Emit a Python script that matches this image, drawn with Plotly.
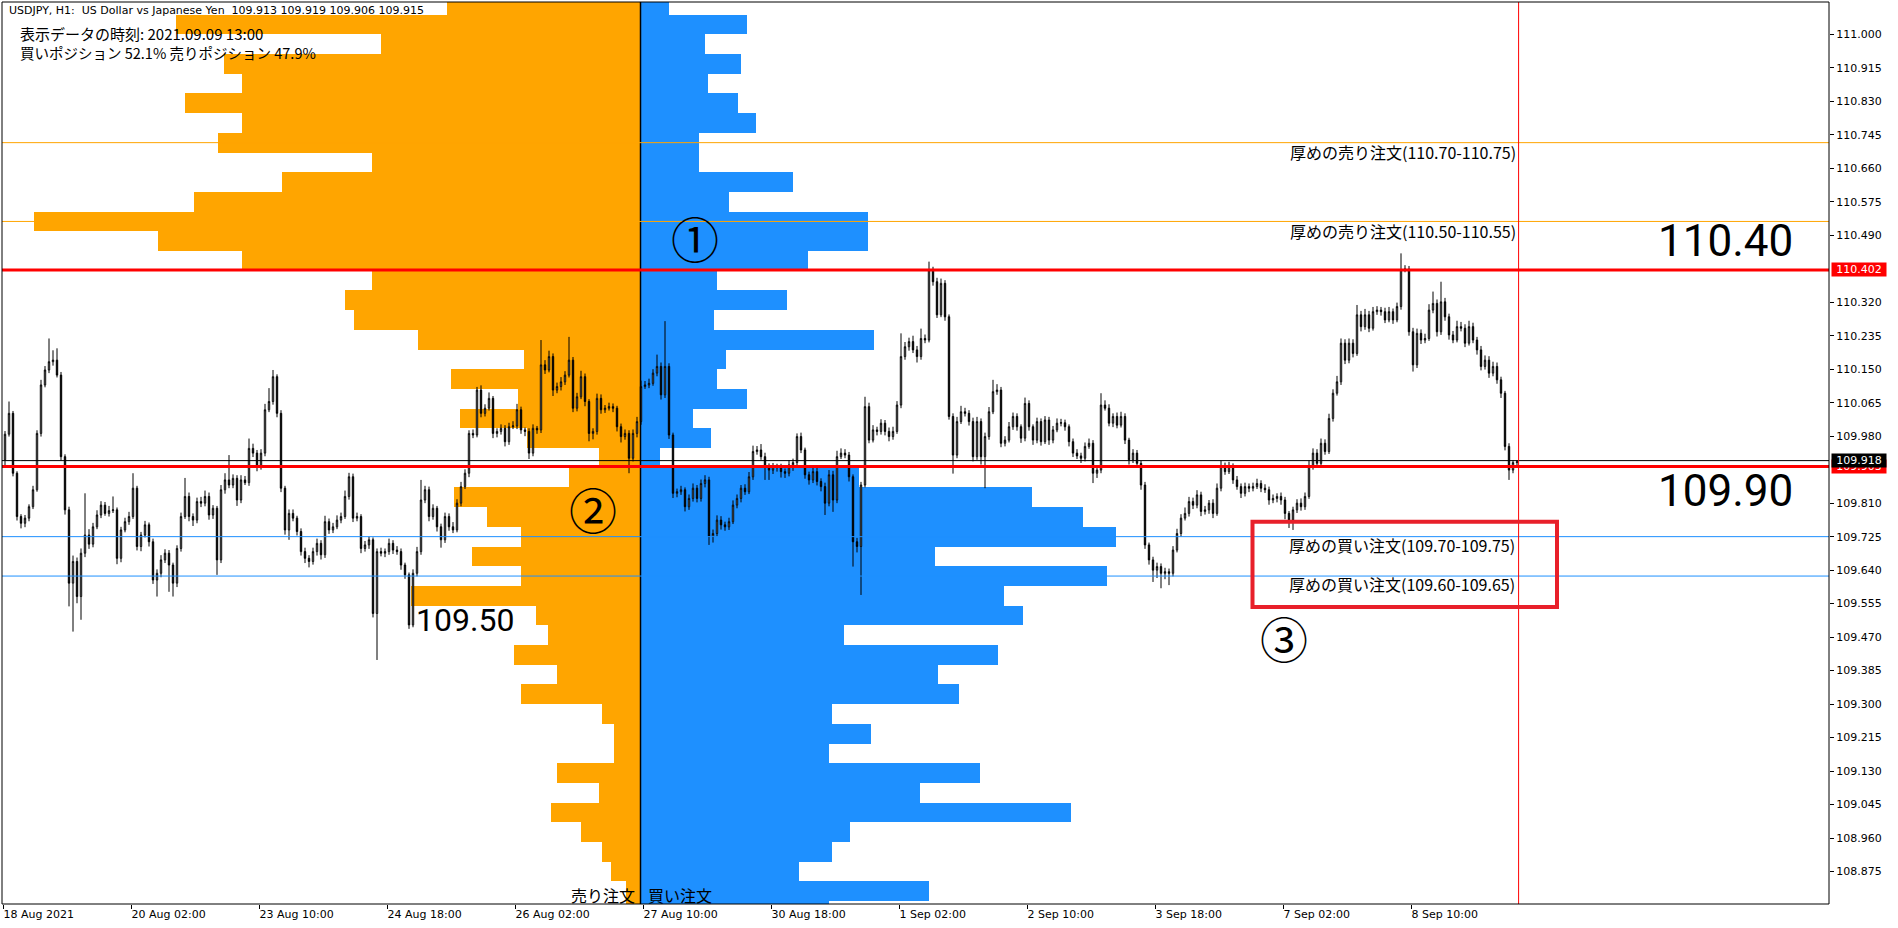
import plotly.graph_objects as go

# ---------------- data ----------------
time_labels = ["18 Aug 2021", "20 Aug 02:00", "23 Aug 10:00", "24 Aug 18:00", "26 Aug 02:00",
               "27 Aug 10:00", "30 Aug 18:00", "1 Sep 02:00", "2 Sep 10:00", "3 Sep 18:00",
               "7 Sep 02:00", "8 Sep 10:00"]
price_tick_labels = ["108.875", "108.960", "109.045", "109.130", "109.215", "109.300", "109.385",
                     "109.470", "109.555", "109.640", "109.725", "109.810", "109.980", "110.065",
                     "110.150", "110.235", "110.320", "110.490", "110.575", "110.660", "110.745",
                     "110.830", "110.915", "111.000"]

first_open = 109.920
closes = [
    109.985, 110.038, 109.886, 109.776, 109.759, 109.772, 109.801, 109.844, 109.987, 110.110,
    110.148, 110.169, 110.173, 110.135, 109.928, 109.793, 109.607, 109.662, 109.573, 109.683,
    109.729, 109.706, 109.750, 109.780, 109.805, 109.784, 109.791, 109.793, 109.670, 109.742,
    109.763, 109.776, 109.848, 109.700, 109.729, 109.755, 109.712, 109.615, 109.632, 109.666,
    109.683, 109.653, 109.607, 109.695, 109.776, 109.827, 109.776, 109.767, 109.814, 109.810,
    109.827, 109.780, 109.797, 109.666, 109.844, 109.869, 109.856, 109.873, 109.818, 109.869,
    109.862, 109.949, 109.937, 109.903, 109.937, 110.047, 110.068, 110.131, 110.038, 109.848,
    109.742, 109.784, 109.772, 109.738, 109.687, 109.670, 109.662, 109.687, 109.708, 109.679,
    109.763, 109.742, 109.750, 109.767, 109.776, 109.827, 109.877, 109.772, 109.776, 109.695,
    109.704, 109.717, 109.530, 109.687, 109.683, 109.687, 109.708, 109.691, 109.687, 109.653,
    109.628, 109.501, 109.632, 109.687, 109.818, 109.844, 109.776, 109.797, 109.750, 109.717,
    109.776, 109.750, 109.742, 109.810, 109.852, 109.886, 109.987, 109.983, 110.097, 110.038,
    110.051, 110.076, 109.987, 109.992, 110.000, 109.966, 110.004, 110.006, 110.047, 109.996,
    109.992, 109.937, 110.000, 109.996, 110.161, 110.148, 110.182, 110.097, 110.106, 110.118,
    110.135, 110.173, 110.051, 110.080, 110.131, 110.068, 109.987, 109.992, 110.076, 110.047,
    110.051, 110.055, 110.051, 110.004, 109.979, 109.987, 109.924, 109.987, 110.017, 110.106,
    110.110, 110.114, 110.140, 110.157, 110.085, 110.157, 109.983, 109.835, 109.839, 109.844,
    109.801, 109.822, 109.848, 109.822, 109.860, 109.869, 109.725, 109.733, 109.767, 109.755,
    109.750, 109.763, 109.805, 109.822, 109.848, 109.839, 109.877, 109.941, 109.945,
    109.928, 109.903, 109.894, 109.904, 109.900, 109.890, 109.886, 109.907, 109.913, 109.979,
    109.945, 109.882, 109.869, 109.890, 109.865, 109.852, 109.810, 109.882, 109.818, 109.928,
    109.937, 109.932, 109.877, 109.712, 109.700, 109.856, 110.055, 109.970, 109.996, 109.992,
    110.013, 109.992, 109.979, 109.992, 110.059, 110.182, 110.207, 110.220, 110.199, 110.182,
    110.228, 110.224, 110.402, 110.372, 110.288, 110.368, 110.283, 110.030, 109.932, 110.017,
    110.042, 110.038, 110.017, 109.928, 110.017, 109.928, 109.979, 110.042, 110.093, 110.097,
    109.962, 109.970, 110.004, 110.030, 110.004, 109.975, 110.063, 110.004, 109.970, 110.017,
    109.966, 110.021, 109.970, 109.996, 110.013, 110.014, 110.004, 109.966, 109.937, 109.930,
    109.924, 109.954, 109.962, 109.886, 109.894, 110.059, 110.051, 110.013, 110.030, 110.008,
    110.030, 109.970, 109.920, 109.937, 109.911, 109.856, 109.704, 109.666, 109.640, 109.649,
    109.632, 109.636, 109.632, 109.691, 109.733, 109.772, 109.784, 109.814, 109.805, 109.831,
    109.789, 109.793, 109.810, 109.784, 109.848, 109.903, 109.890, 109.903, 109.869, 109.852,
    109.835, 109.852, 109.848, 109.852, 109.860, 109.848, 109.844, 109.818, 109.822,
    109.827, 109.818, 109.784, 109.767, 109.793, 109.810, 109.801, 109.827, 109.903, 109.937,
    109.911, 109.962, 109.941, 110.025, 110.089, 110.118, 110.216, 110.173, 110.216, 110.190,
    110.288, 110.258, 110.288, 110.254, 110.296, 110.300, 110.296, 110.275, 110.296,
    110.275, 110.309, 110.402, 110.404, 110.245, 110.161, 110.241, 110.224, 110.228, 110.300,
    110.317, 110.245, 110.321, 110.283, 110.237, 110.224, 110.258, 110.254, 110.216, 110.258,
    110.224, 110.199, 110.157, 110.173, 110.140, 110.157, 110.123, 110.089, 109.954, 109.894,
    109.913, 109.915,
]
# upper / lower wick lengths beyond the candle body, in 0.001 yen
wick_up = [
    8, 30, 6, 5, 6, 8, 6, 10, 8, 13, 10, 59, 25, 30, 8, 6, 8, 15, 10, 12,
    106, 15, 10, 12, 10, 8, 12, 34, 6, 8, 10, 12, 38, 6, 8, 10, 6, 8, 10, 12,
    10, 8, 6, 8, 10, 47, 10, 8, 10, 12, 15, 10, 8, 6, 12, 17, 63, 10, 8, 12,
    10, 25, 12, 8, 10, 15, 34, 17, 6, 8, 6, 10, 10, 6, 8, 10, 8, 10, 12, 8,
    15, 8, 10, 12, 10, 15, 10, 8, 10, 6, 10, 8, 6, 8, 10, 8, 12, 8, 10, 8,
    6, 6, 10, 12, 51, 10, 8, 10, 6, 8, 10, 8, 12, 10, 12, 10, 8, 10, 8, 12,
    10, 15, 6, 8, 10, 8, 10, 12, 15, 8, 6, 8, 10, 6, 63, 12, 15, 8, 10, 12,
    10, 59, 8, 10, 15, 8, 6, 8, 12, 10, 8, 10, 8, 6, 8, 10, 8, 10, 12, 15,
    10, 12, 10, 30, 10, 115, 8, 6, 8, 10, 6, 10, 12, 8, 10, 12, 8, 10, 12, 10,
    8, 10, 12, 10, 8, 10, 12, 15, 10,
    15, 10, 8, 8, 6, 10, 8, 12, 10, 8, 10, 6, 8, 10, 12, 8, 10, 12, 10, 15,
    12, 10, 8, 6, 10, 8, 25, 10, 12, 8, 10, 8, 10, 12, 10, 59, 12, 10, 15, 10,
    25, 10, 21, 8, 10, 12, 8, 6, 8, 12, 15, 10, 8, 10, 12, 8, 10, 12, 30, 15,
    8, 10, 12, 10, 8, 6, 15, 8, 6, 10, 8, 10, 8, 10, 12, 10, 8, 6, 8, 10,
    8, 10, 12, 8, 10, 30, 12, 10, 8, 10, 12, 8, 6, 10, 8, 6, 8, 6, 8, 10,
    8, 10, 8, 10, 12, 10, 15, 12, 10, 12, 8, 10, 8, 10, 12, 15, 10, 12, 8, 10,
    8, 10, 8, 10, 12, 8, 10, 8, 10, 8, 10, 8, 6, 8, 10, 12, 10, 15, 12,
    10, 12, 10, 12, 10, 15, 12, 10, 12, 10, 25, 10, 15, 10, 12, 10, 8, 10, 12,
    8, 10, 42, 10, 8, 10, 12, 10, 12, 15, 30, 10, 51, 10, 8, 10, 15, 12, 10, 15,
    10, 8, 10, 12, 10, 12, 10, 8, 6, 8, 6, 4,
]
wick_dn = [
    15, 6, 8, 10, 13, 10, 8, 6, 5, 8, 6, 8, 10, 6, 10, 12, 59, 123, 17, 59,
    10, 12, 8, 6, 8, 6, 8, 6, 15, 10, 6, 8, 6, 10, 12, 6, 12, 10, 42, 10,
    8, 68, 34, 10, 8, 6, 12, 15, 8, 10, 8, 12, 10, 38, 8, 10, 8, 8, 15, 8,
    6, 8, 10, 12, 8, 8, 6, 8, 10, 10, 12, 25, 8, 10, 10, 12, 15, 8, 10, 12,
    8, 10, 8, 6, 8, 6, 8, 10, 8, 12, 8, 10, 10, 118, 8, 10, 8, 10, 8, 12,
    10, 10, 6, 8, 8, 8, 12, 8, 12, 20, 8, 10, 8, 6, 8, 6, 10, 8, 6, 10,
    8, 6, 12, 10, 8, 12, 8, 6, 8, 10, 12, 15, 8, 10, 8, 10, 6, 15, 8, 10,
    8, 6, 10, 8, 6, 12, 20, 15, 8, 10, 8, 6, 10, 12, 15, 8, 38, 8, 10, 8,
    6, 8, 6, 8, 12, 8, 10, 12, 10, 8, 12, 8, 8, 10, 8, 10, 21, 15, 8, 12,
    10, 8, 6, 8, 10, 8, 6, 8, 8,
    8, 34, 25, 10, 10, 15, 12, 8, 15, 8, 8, 10, 12, 8, 10, 12, 30, 8, 30, 8,
    6, 8, 12, 63, 15, 123, 6, 8, 6, 10, 8, 10, 12, 8, 6, 8, 8, 10, 8, 15,
    8, 8, 6, 10, 8, 6, 10, 8, 47, 8, 6, 8, 10, 12, 8, 20, 80, 8, 6, 8,
    10, 8, 6, 8, 10, 12, 8, 10, 12, 8, 10, 6, 12, 8, 6, 8, 10, 12, 10, 8,
    12, 8, 6, 25, 12, 8, 6, 8, 10, 8, 6, 10, 12, 8, 10, 12, 10, 12, 30, 20,
    38, 15, 30, 8, 6, 8, 6, 8, 10, 8, 12, 8, 10, 12, 6, 8, 8, 6, 10, 8,
    12, 8, 10, 8, 6, 10, 8, 12, 8, 10, 12, 15, 20, 25, 8, 10, 8, 6, 8,
    10, 8, 8, 6, 8, 6, 8, 10, 8, 10, 6, 12, 8, 10, 6, 8, 10, 8, 6,
    10, 6, 8, 6, 10, 17, 8, 10, 8, 6, 8, 12, 8, 10, 12, 8, 6, 8, 10, 6,
    8, 12, 10, 8, 12, 8, 10, 12, 10, 25, 8, 7,
]

# order book (percent of orders per 0.05 yen price bucket, lower bound of bucket)
bucket_low = [111.05, 111.00, 110.95, 110.90, 110.85, 110.80, 110.75, 110.70, 110.65, 110.60,
              110.55, 110.50, 110.45, 110.40, 110.35, 110.30, 110.25, 110.20, 110.15, 110.10,
              110.05, 110.00, 109.95, 109.90, 109.85, 109.80, 109.75, 109.70, 109.65, 109.60,
              109.55, 109.50, 109.45, 109.40, 109.35, 109.30, 109.25, 109.20, 109.15, 109.10,
              109.05, 109.00, 108.95, 108.90, 108.85, 108.80, 108.75]
sell_pct = [0.483, 1.162, 0.649, 1.042, 0.996, 1.138, 0.996, 1.056, 0.671, 0.896,
            1.116, 1.516, 1.207, 0.996, 0.671, 0.739, 0.716, 0.556, 0.291, 0.474,
            0.306, 0.451, 0.284, 0.104, 0.180, 0.466, 0.385, 0.299, 0.421, 0.299,
            0.574, 0.261, 0.231, 0.317, 0.209, 0.299, 0.097, 0.066, 0.066, 0.209,
            0.104, 0.224, 0.149, 0.097, 0.074, 0.036, 0.036]
buy_pct = [0.071, 0.266, 0.161, 0.251, 0.169, 0.244, 0.289, 0.146, 0.146, 0.381,
           0.221, 0.569, 0.569, 0.419, 0.191, 0.366, 0.184, 0.584, 0.214, 0.191,
           0.266, 0.131, 0.176, 0.049, 0.546, 0.979, 1.106, 1.189, 0.736, 1.166,
           0.909, 0.956, 0.509, 0.894, 0.744, 0.796, 0.479, 0.576, 0.471, 0.849,
           0.699, 1.076, 0.524, 0.479, 0.396, 0.721, 0.471]
bucket_size = 0.05

sell_walls = [110.725, 110.525]
buy_walls = [109.725, 109.625]
key_levels = [110.402, 109.903]
bid_price = 109.918

# ---------------- derived ----------------
opens = [first_open] + closes[:-1]
highs = [max(o, c) + u / 1000 for o, c, u in zip(opens, closes, wick_up)]
lows = [min(o, c) - d / 1000 for o, c, d in zip(opens, closes, wick_dn)]
bar_idx = list(range(len(closes)))
bucket_mid = [b + bucket_size / 2 for b in bucket_low]

# ---------------- layout geometry ----------------
W, H = 1898, 928
ML, MR, MT, MB = 2, 69, 2, 24
PW, PH = W - ML - MR, H - MT - MB
PX_PER_YEN = 394.0
Y_TOP = 111.000 + (34.3 - MT) / PX_PER_YEN
Y_BOT = 111.000 - (H - MB - 34.3) / PX_PER_YEN
BAR_PX = 4.0
FIRST_BAR_PX = 5.0
CENTER_PX = 640.5
PCT_PX = 400.0

def xp(px):
    return (px - ML) / PW

def yp(py):
    return 1 - (py - MT) / PH

FONT = "DejaVu Sans"
JP = "Noto Sans CJK JP"

fig = go.Figure()

fig.add_trace(go.Bar(y=bucket_mid, x=[-v for v in sell_pct], orientation="h", width=bucket_size,
                     marker=dict(color="#FFA500", line=dict(width=0)), xaxis="x", yaxis="y",
                     hoverinfo="skip", showlegend=False))
fig.add_trace(go.Bar(y=bucket_mid, x=buy_pct, orientation="h", width=bucket_size,
                     marker=dict(color="#1E90FF", line=dict(width=0)), xaxis="x", yaxis="y",
                     hoverinfo="skip", showlegend=False))

fig.add_trace(go.Candlestick(
    x=bar_idx, open=opens, high=highs, low=lows, close=closes, xaxis="x2", yaxis="y",
    increasing=dict(line=dict(color="black", width=1), fillcolor="white"),
    decreasing=dict(line=dict(color="black", width=1), fillcolor="black"),
    whiskerwidth=0, hoverinfo="skip", showlegend=False))

shapes = []
shapes.append(dict(type="line", xref="x", yref="paper", x0=0, x1=0, y0=0, y1=1,
                   line=dict(color="black", width=1.5)))
for v in sell_walls:
    shapes.append(dict(type="line", xref="paper", yref="y", x0=0, x1=1, y0=v, y1=v,
                       line=dict(color="#FFA500", width=1)))
for v in buy_walls:
    shapes.append(dict(type="line", xref="paper", yref="y", x0=0, x1=1, y0=v, y1=v,
                       line=dict(color="#1E90FF", width=1)))
shapes.append(dict(type="line", xref="paper", yref="y", x0=0, x1=1, y0=bid_price, y1=bid_price,
                   line=dict(color="black", width=1)))
for v in key_levels:
    shapes.append(dict(type="line", xref="paper", yref="y", x0=0, x1=1, y0=v, y1=v,
                       line=dict(color="#FF0000", width=3)))
shapes.append(dict(type="line", xref="x2", yref="paper", x0=bar_idx[-1] + 0.4, x1=bar_idx[-1] + 0.4,
                   y0=0, y1=1, line=dict(color="#FF0000", width=1)))
shapes.append(dict(type="rect", xref="paper", yref="paper", x0=xp(1252.5), x1=xp(1557),
                   y0=yp(607), y1=yp(521.7), line=dict(color="#E8202A", width=4)))
shapes.append(dict(type="rect", xref="paper", yref="paper", x0=0, x1=1, y0=0, y1=1,
                   line=dict(color="black", width=1)))

anns = []

def add_text(text, x, y, xanchor, size, family, color="black"):
    anns.append(dict(text=text, x=xp(x), y=yp(y), xref="paper", yref="paper", xanchor=xanchor,
                     yanchor="middle", showarrow=False, font=dict(size=size, family=family, color=color)))

NB = "\u00a0"
add_text(f"USDJPY, H1:{NB}{NB}US Dollar vs Japanese Yen{NB}{NB}109.913 109.919 109.906 109.915",
         6.5, 10.5, "left", 11, FONT)
add_text("表示データの時刻: 2021.09.09 13:00", 17.5, 33, "left", 15, JP)
add_text("買いポジション 52.1% 売りポジション 47.9%", 17.5, 52.5, "left", 14.5, JP)
add_text("厚めの売り注文(110.70-110.75)", 1518, 151.5, "right", 16, JP)
add_text("厚めの売り注文(110.50-110.55)", 1518, 231, "right", 16, JP)
add_text("厚めの買い注文(109.70-109.75)", 1517, 545, "right", 16, JP)
add_text("厚めの買い注文(109.60-109.65)", 1517, 584, "right", 16, JP)
add_text("110.40", 1795, 241.5, "right", 44, "Roboto")
add_text("109.90", 1795, 490.5, "right", 44, "Roboto")
add_text("109.50", 414, 620, "left", 32, "Roboto")
add_text("①", 695.4, 236.7, "center", 48, JP)
add_text("②", 592.6, 507.7, "center", 48, JP)
add_text("③", 1283.5, 636.7, "center", 48, JP)
add_text("売り注文", 637, 894.5, "right", 16, JP)
add_text("買い注文", 645.5, 894.5, "left", 16, JP)

# price labels on the right scale
for val, txt, bg in [(key_levels[0], "110.402", "#FF0000"), (key_levels[1], "109.903", "#FF0000"),
                     (bid_price, "109.918", "black")]:
    anns.append(dict(text=txt, x=1, y=val, xref="paper", yref="y", xanchor="left", yanchor="middle",
                     xshift=2, showarrow=False, bgcolor=bg, borderpad=0, width=54, align="center",
                     font=dict(size=11, family=FONT, color="white")))

fig.update_layout(
    width=W, height=H,
    margin=dict(l=ML, r=MR, t=MT, b=MB, pad=0),
    paper_bgcolor="white", plot_bgcolor="white",
    font=dict(family=FONT, size=11, color="black"),
    barmode="overlay", bargap=0, boxgap=0.5,
    hovermode=False, showlegend=False,
    xaxis=dict(range=[(ML - CENTER_PX) / PCT_PX, (ML + PW - CENTER_PX) / PCT_PX], visible=False,
               fixedrange=True),
    xaxis2=dict(overlaying="x", anchor="y", side="bottom",
                range=[(ML - FIRST_BAR_PX) / BAR_PX, (ML + PW - FIRST_BAR_PX) / BAR_PX],
                tickvals=[32 * k - 0.5 for k in range(len(time_labels))], ticktext=time_labels,
                ticks="outside", ticklen=4, tickwidth=1, tickcolor="black",
                ticklabelposition="outside right",
                showgrid=False, zeroline=False, showline=False,
                tickfont=dict(size=11, family=FONT, color="black"),
                rangeslider=dict(visible=False)),
    yaxis=dict(side="right", range=[Y_BOT, Y_TOP], anchor="x",
               tickvals=[float(t) for t in price_tick_labels], ticktext=price_tick_labels,
               ticks="outside", ticklen=4, tickwidth=1, tickcolor="black",
               showgrid=False, zeroline=False, showline=False,
               tickfont=dict(size=11, family=FONT, color="black")),
    shapes=shapes, annotations=anns,
)

fig.write_html("out.html", config={"displayModeBar": False},
               post_script="document.body.style.margin='0px';document.body.style.overflow='hidden';")
